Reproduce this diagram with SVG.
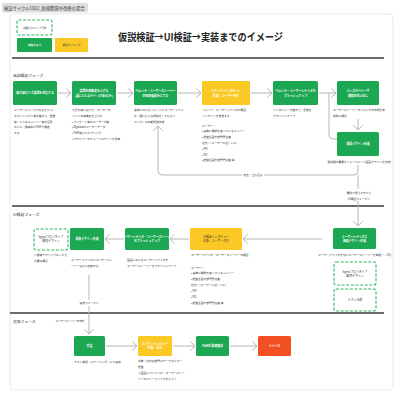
<svg xmlns="http://www.w3.org/2000/svg" width="404" height="404" viewBox="0 0 404 404">
<style>
text{font-family:"Noto Sans CJK JP","Noto Sans",sans-serif}
.g{fill:#1ca752}
.y{fill:#fbc926}
.r{fill:#f25022}
.dsh{fill:#fff;stroke:#2fb562;stroke-width:1.1;stroke-dasharray:3 1.6}
.nt{font-size:2.9px;fill:#fff;text-anchor:middle;font-weight:bold}
.ntd{font-size:2.9px;fill:#3a3a3a;text-anchor:middle}
.d{font-size:2.75px;fill:#333}
.dc{font-size:2.75px;fill:#333;text-anchor:middle}
.sec{font-size:3.8px;fill:#333}
.c{fill:none;stroke:#b5b5b5;stroke-width:1}
.sep{stroke:#3a3a3a;stroke-width:1.4}
.bg{fill:#fff}
</style>
<defs>
<marker id="ah" markerUnits="userSpaceOnUse" viewBox="0 0 6 10" markerWidth="6" markerHeight="10" refX="5.2" refY="5" orient="auto" overflow="visible">
<path d="M0.5,0.5 L5.2,5 L0.5,9.5" fill="none" stroke="#b5b5b5" stroke-width="1"/>
</marker>
</defs>
<rect width="404" height="404" fill="#fff"/>
<rect x="10" y="14" width="383" height="376" rx="4" fill="#fff" stroke="#e4e4e4" stroke-width="0.8"/>
<g id="tab">
<rect x="2" y="3" width="86" height="9.5" rx="2" fill="#dedede"/>
<text x="4" y="10" style="font-size:4.3px;fill:#333">検証サイクル1022_新規開発や改修の場合</text>
</g>
<g id="legend">
<rect x="17" y="20" width="35" height="15" rx="1.5" class="dsh"/>
<text x="34.5" y="28.5" class="ntd" style="font-size:2.3px">必要ならスキップ可能</text>
<rect x="17" y="38" width="35" height="14" rx="1" class="g"/>
<text x="34.5" y="46" class="nt" style="font-size:2.6px">実施タスク</text>
<rect x="55" y="38" width="33" height="14" rx="1" class="y"/>
<text x="71.5" y="46" class="ntd" style="font-size:2.6px">検証タイミング</text>
</g>
<text x="118" y="41" textLength="165" lengthAdjust="spacingAndGlyphs" style="font-size:10.5px;font-weight:bold;fill:#222">仮説検証→UI検証→実装までのイメージ</text>
<line x1="12" y1="58" x2="384" y2="58" class="sep"/>
<line x1="12" y1="206" x2="384" y2="206" class="sep"/>
<line x1="10" y1="313" x2="384" y2="313" class="sep"/>
<text x="13" y="77" class="sec">仮説検証フェーズ</text>
<text x="13" y="216" class="sec">UI検証フェーズ</text>
<text x="13" y="323" class="sec">実装フェーズ</text>

<g id="connectors">
<path d="M58,93 H71" class="c" marker-end="url(#ah)"/>
<path d="M117,93 H133" class="c" marker-end="url(#ah)"/>
<path d="M178,93 H201" class="c" marker-end="url(#ah)"/>
<path d="M251,93 H272" class="c" marker-end="url(#ah)"/>
<path d="M319,93 H336" class="c" marker-end="url(#ah)"/>
<path d="M329,93 V134 Q329,139 334,139 H337" class="c"/>
<path d="M358,119 V130" class="c" marker-end="url(#ah)"/>
<path d="M358,165 V171 Q358,175 354,175 H162 Q158,175 158,171 V126" class="c" marker-end="url(#ah)"/>
<path d="M358,175 V226" class="c" marker-end="url(#ah)"/>
<rect x="242" y="172" width="22" height="6" class="bg"/>
<text x="253" y="176.2" class="dc">修正、立ち返る</text>
<rect x="344" y="189" width="30" height="12" class="bg"/>
<text x="359" y="194" class="dc">要件が見えてきたら</text>
<text x="359" y="200" class="dc">UI検証フェーズへ</text>
<path d="M322,239 H243" class="c" marker-end="url(#ah)"/>
<path d="M189,239 H170" class="c" marker-end="url(#ah)"/>
<path d="M124,239 H105" class="c" marker-end="url(#ah)"/>
<path d="M89,275 V334" class="c" marker-end="url(#ah)"/>
<rect x="78" y="300" width="22" height="6" class="bg"/>
<text x="89" y="304" class="dc">実装フェーズへ</text>
<text x="84" y="322" class="d" style="font-size:2.4px;text-anchor:end">ユーザーストーリーの作成</text>
<path d="M106,346 H137" class="c" marker-end="url(#ah)"/>
<path d="M173,346 H195" class="c" marker-end="url(#ah)"/>
<path d="M230,346 H257" class="c" marker-end="url(#ah)"/>
</g>

<g id="n1">
<rect x="13" y="81" width="44" height="24" rx="1.5" class="g"/>
<text x="35" y="94" class="nt">取り組むべき課題を選定する</text>
<text x="14" y="111" class="d"><tspan x="14">ユーザーにニーズがあるか/ビジ</tspan><tspan x="14" dy="5.8">ネスインパクト等を踏まえ、経営</tspan><tspan x="14" dy="5.8">陣・ビジネスメンバー等の合意</tspan><tspan x="14" dy="5.8">のもと、最終的にPdMが選定</tspan><tspan x="14" dy="5.8">する</tspan></text>
</g>
<g id="n2">
<rect x="72" y="81" width="44" height="24" rx="1.5" class="g"/>
<text x="94" y="92" class="nt">課題の解像度を上げる</text>
<text x="94" y="96.6" class="nt">(誰にどんなペインがあるか?)</text>
<text class="d"><tspan x="72" y="111">下記を使いながら、ユーザーの</tspan><tspan x="72" dy="5.8">ペインの解像度を上げる</tspan><tspan x="72" dy="5.8">• アンケート等のユーザー行動</tspan><tspan x="72" dy="5.8">• Bigdataのユーザーデータ</tspan><tspan x="72" dy="5.8">• PdM等からヒアリング</tspan><tspan x="72" dy="5.8">• デザイナーのヒューリスティック評価</tspan></text>
</g>
<g id="n3">
<rect x="134" y="81" width="43" height="24" rx="1.5" class="g"/>
<text x="155.5" y="92" class="nt">ペルソナ・ユーザーストーリー</text>
<text x="155.5" y="96.6" class="nt">の初期仮説を立てる</text>
<text class="d"><tspan x="134" y="111">業務におけるペルソナとユーザーシナリ</tspan><tspan x="134" dy="5.8">オ（誰にどんな体験をしてもらい</tspan><tspan x="134" dy="5.8">たいか）の初期仮説作成</tspan></text>
</g>
<g id="n4">
<rect x="202" y="81" width="48" height="24" rx="1.5" class="y"/>
<text x="226" y="92" class="nt">リサーチ/インタビュー</text>
<text x="226" y="96.6" class="nt">対象：ユーザーの方</text>
<text class="d"><tspan x="202" y="111">ペルソナ・ユーザーシナリオの検証、</tspan><tspan x="202" dy="5.8">インサイトを発見する</tspan><tspan x="202" y="126.5">ユーザー：</tspan><tspan x="202" dy="5.8">• 実際に機能を使っているメンバー</tspan><tspan x="202" dy="5.8">• 経営企画や部門責任者</tspan><tspan x="202" dy="5.8">社内：（ユーザーに近しい人）</tspan><tspan x="202" dy="5.8">• PM</tspan><tspan x="202" dy="5.8">• PO</tspan><tspan x="202" dy="5.8">• 経営企画や部門責任者 等</tspan></text>
</g>
<g id="n5">
<rect x="273" y="81" width="45" height="24" rx="1.5" class="g"/>
<text x="295.5" y="92" class="nt">ペルソナ・ユーザーシナリオを</text>
<text x="295.5" y="96.6" class="nt">ブラッシュアップ</text>
<text class="d"><tspan x="273" y="111">インタビューを踏まえ、仮説を</tspan><tspan x="273" dy="5.8">ブラッシュアップ</tspan></text>
</g>
<g id="n6">
<rect x="337" y="81" width="42" height="24" rx="1.5" class="g"/>
<text x="358" y="92" class="nt">ディスカバリーで</text>
<text x="358" y="96.6" class="nt">機能の洗い出し</text>
<text class="d"><tspan x="333" y="111">ユーザーストーリーマッピングの作成を本</tspan><tspan x="333" dy="5.8">格的に検討</tspan></text>
</g>
<g id="n7">
<rect x="337" y="132" width="42" height="24" rx="1.5" class="g"/>
<text x="358" y="145" class="nt">簡易デザイン作成</text>
<text x="359" y="162.5" class="dc">最低限の要素をイメージにした画面デザインを作成</text>
</g>

<g id="uA">
<rect x="333" y="228" width="43" height="21" rx="1.5" class="g"/>
<text x="354.5" y="237.5" class="nt">ユーザーシナリオと</text>
<text x="354.5" y="242" class="nt">画面デザイン作成</text>
<text x="355" y="256" class="dc">ユーザーシナリオを元にユーザーストーリーを整理し、UI化</text>
</g>
<g id="uA1">
<rect x="334" y="262" width="42" height="23" rx="2" class="dsh"/>
<text x="355" y="272.5" class="ntd">figmaプロトタイプ</text>
<text x="355" y="277" class="ntd">画面デザイン</text>
</g>
<g id="uA2">
<rect x="334" y="289" width="42" height="22" rx="2" class="dsh"/>
<text x="355" y="301" class="ntd">テスト仕様</text>
</g>
<g id="uB">
<rect x="190" y="228" width="52" height="22" rx="1.5" class="y"/>
<text x="216" y="237.5" class="ntd">UI検証インタビュー</text>
<text x="216" y="242" class="ntd">対象：ユーザーの方</text>
<text class="d"><tspan x="191" y="256">ユーザーシナリオ・ユーザーストーリーの検証</tspan><tspan x="191" y="268.5">ユーザー：</tspan><tspan x="191" dy="5.9">• 実際に機能を使っているメンバー</tspan><tspan x="191" dy="5.9">• 経営企画や部門責任者</tspan><tspan x="191" dy="5.9">社内：（ユーザーに近しい人）</tspan><tspan x="191" dy="5.9">• PM</tspan><tspan x="191" dy="5.9">• PO</tspan><tspan x="191" dy="5.9">• 経営企画や部門責任者 等</tspan></text>
</g>
<g id="uC">
<rect x="125" y="228" width="44" height="22" rx="1.5" class="g"/>
<text x="147" y="237.5" class="nt">ユーザーシナリオ・ユーザーストーリー</text>
<text x="147" y="242" class="nt">をブラッシュアップ</text>
<text class="d"><tspan x="127" y="261">画面におけるユーザーシナリオや</tspan><tspan x="127" dy="6">ユーザーストーリーをブラッシュアップ</tspan></text>
</g>
<g id="uD">
<rect x="70" y="228" width="34" height="22" rx="1.5" class="g"/>
<text x="87" y="240" class="nt">最終デザイン作成</text>
<text class="d"><tspan x="71" y="261">ユーザーシナリオとユーザースト</tspan><tspan x="71" dy="6">ーリーなどに反映する</tspan></text>
</g>
<g id="uE">
<rect x="34" y="229" width="34" height="21" rx="2" class="dsh"/>
<text x="51" y="237.8" class="ntd">figmaプロトタイプ</text>
<text x="51" y="242.3" class="ntd">最終デザイン</text>
<text class="d"><tspan x="34" y="256">※最終デザインがあったら</tspan><tspan x="34" dy="6">不要な場合</tspan></text>
</g>

<g id="iF">
<rect x="74" y="336" width="31" height="20" rx="1.5" class="g"/>
<text x="89.5" y="347" class="nt">実装</text>
<text x="74" y="362.5" class="d">テスト環境（ステージング）にて実装</text>
</g>
<g id="iG">
<rect x="138" y="336" width="34" height="20" rx="1.5" class="y"/>
<text x="155" y="344.5" class="nt">スプリントレビュー</text>
<text x="155" y="349" class="nt">対象：社内</text>
<text class="d"><tspan x="138" y="361.5">対象：社内各部門ステークホルダー</tspan><tspan x="138" dy="6">経営</tspan><tspan x="138" dy="6">※画面にてシナリオ・ユーザーストー</tspan><tspan x="138" dy="6">リーのフィードバックをもらう</tspan></text>
</g>
<g id="iH">
<rect x="196" y="336" width="33" height="20" rx="1.5" class="g"/>
<text x="212.5" y="347" class="nt">PdMが最終確認</text>
</g>
<g id="iI">
<rect x="258" y="336" width="33" height="20" rx="1.5" class="r"/>
<text x="274.5" y="347" class="nt">リリース</text>
</g>
</svg>
